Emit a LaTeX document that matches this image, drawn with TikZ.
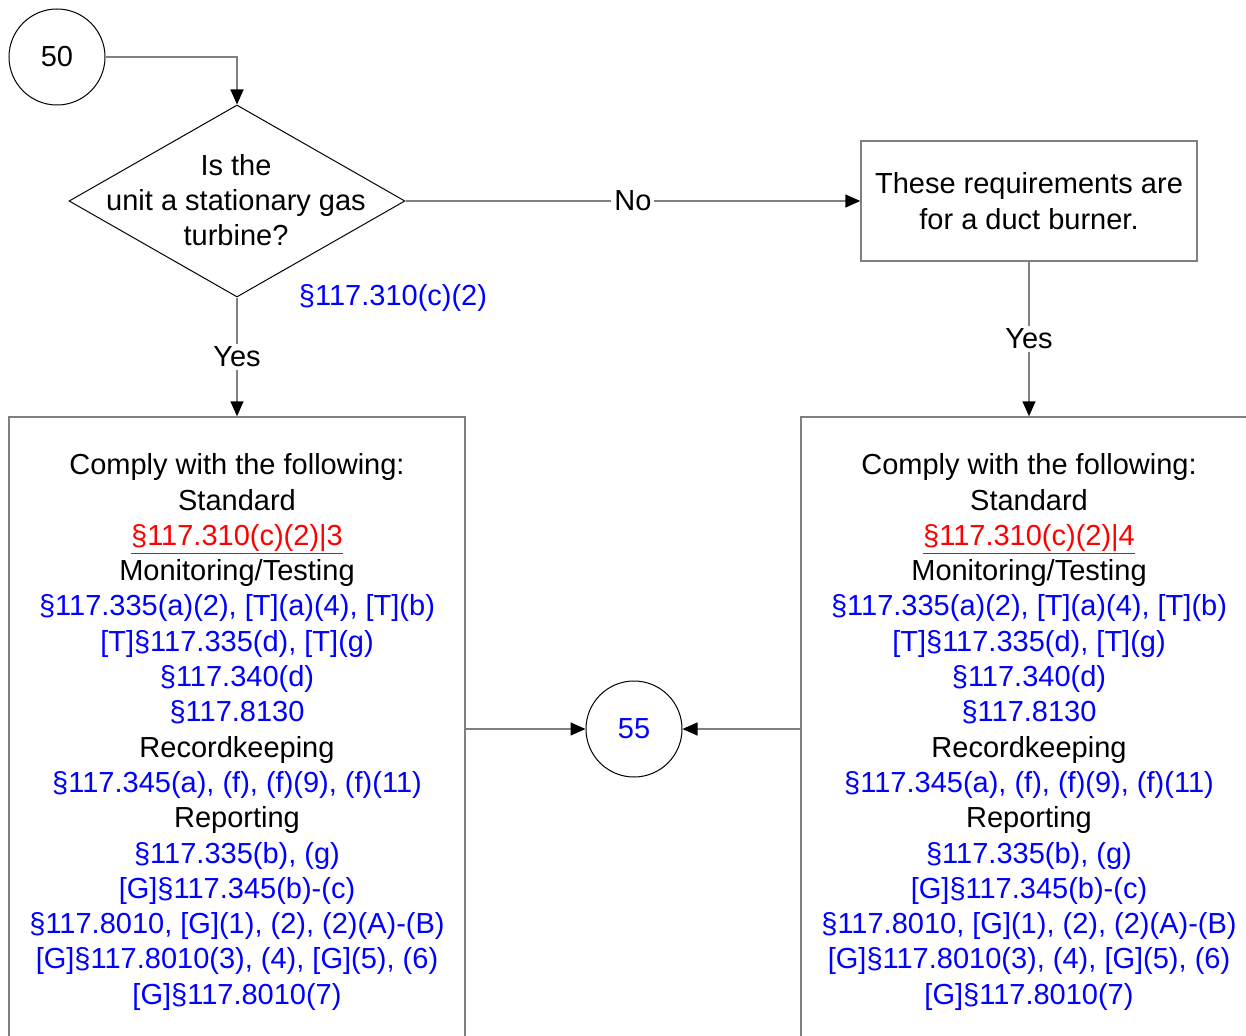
\documentclass[tikz,border=0pt]{standalone}
\usepackage{fontspec}
\setmainfont{Liberation Sans}
\usepackage{xcolor}
\usetikzlibrary{shapes.geometric,arrows.meta}

\begin{document}
\begin{tikzpicture}[
    x=1pt, y=-1pt,
    font=\fontsize{29}{35.3}\selectfont,
    connector/.style={circle, draw, line width=1pt, minimum size=96pt, inner sep=0pt},
    decision/.style={diamond, draw, line width=1pt, minimum width=336pt, minimum height=192pt, inner sep=0pt},
    box/.style={rectangle, draw=gray, line width=1.5pt, align=center, inner sep=0pt},
    arrow/.style={-{Triangle[length=15pt, width=13pt, color=black]}, draw=gray, line width=1.5pt},
    tag/.style={fill=white, inner sep=3pt}
]
    \clip (0,0) rectangle (1246,1035);

    % Off-page connectors
    \node[connector] (c50) at (57,57) {50};
    \node[connector, text=blue] (c55) at (634,729) {55};

    % Decision
    \node[decision] (turbine) at (237,201) {};
    \node[align=center] (turbinetext) at (236,200) {Is the\\unit a stationary gas\\turbine?};
    \node[text=blue] (turbineref) at (393,298) {§117.310(c)(2)};

    % Duct burner note
    \node[box, minimum width=336pt, minimum height=120pt] (duct) at (1029,201) {These requirements are\\for a duct burner.};

    % Requirement lists
    \node[box, minimum width=456pt, minimum height=630pt] (gasreq) at (237,732) {Comply with the following:\\Standard\\\textcolor{red}{\underline{§117.310(c)(2)|3}}\\Monitoring/Testing\\\textcolor{blue}{§117.335(a)(2), [T](a)(4), [T](b)}\\\textcolor{blue}{[T]§117.335(d), [T](g)}\\\textcolor{blue}{§117.340(d)}\\\textcolor{blue}{§117.8130}\\Recordkeeping\\\textcolor{blue}{§117.345(a), (f), (f)(9), (f)(11)}\\Reporting\\\textcolor{blue}{§117.335(b), (g)}\\\textcolor{blue}{[G]§117.345(b)-(c)}\\\textcolor{blue}{§117.8010, [G](1), (2), (2)(A)-(B)}\\\textcolor{blue}{[G]§117.8010(3), (4), [G](5), (6)}\\\textcolor{blue}{[G]§117.8010(7)}};
    \node[box, minimum width=456pt, minimum height=630pt] (ductreq) at (1029,732) {Comply with the following:\\Standard\\\textcolor{red}{\underline{§117.310(c)(2)|4}}\\Monitoring/Testing\\\textcolor{blue}{§117.335(a)(2), [T](a)(4), [T](b)}\\\textcolor{blue}{[T]§117.335(d), [T](g)}\\\textcolor{blue}{§117.340(d)}\\\textcolor{blue}{§117.8130}\\Recordkeeping\\\textcolor{blue}{§117.345(a), (f), (f)(9), (f)(11)}\\Reporting\\\textcolor{blue}{§117.335(b), (g)}\\\textcolor{blue}{[G]§117.345(b)-(c)}\\\textcolor{blue}{§117.8010, [G](1), (2), (2)(A)-(B)}\\\textcolor{blue}{[G]§117.8010(3), (4), [G](5), (6)}\\\textcolor{blue}{[G]§117.8010(7)}};

    % Arrows
    \draw[arrow] (c50.east) -| (turbine.north);
    \draw[arrow] (turbine.east) -- node[tag] (nolabel) {No} (duct.west);
    \draw[arrow] (turbine.south) -- node[tag] (yesgas) {Yes} (gasreq.north);
    \draw[arrow] (duct.south) -- node[tag] (yesduct) {Yes} (ductreq.north);
    \draw[arrow] (c55.west -| gasreq.east) -- (c55.west);
    \draw[arrow] (c55.east -| ductreq.west) -- (c55.east);
\end{tikzpicture}
\end{document}
